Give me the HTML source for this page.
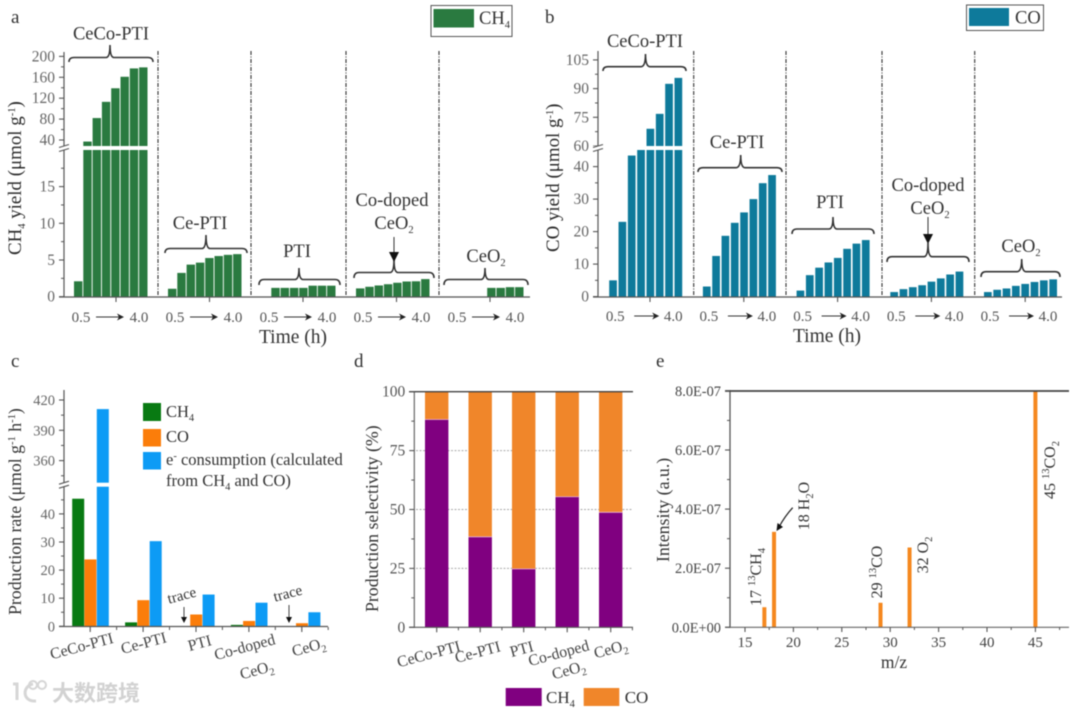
<!DOCTYPE html>
<html lang="en">
<head>
<meta charset="utf-8">
<title>Photocatalytic yield charts</title>
<style>
html,body{margin:0;padding:0;background:#fff;width:1080px;height:713px;overflow:hidden}
svg{display:block;filter:blur(.5px)}
text{font-family:"Liberation Serif","Noto Serif CJK SC",serif;fill:#333}
.lab{font-size:18.5px;text-anchor:middle;fill:#333}
.tit{font-size:18.9px;fill:#2c2c2c}
.sub{font-size:10.5px;baseline-shift:-4px}
.sup{font-size:10.5px;baseline-shift:6px}
.rot{font-size:15.8px;text-anchor:middle;fill:#444}
.ann{font-size:16px;text-anchor:middle;fill:#333}
.leg{font-size:16.5px;fill:#333}
.curve{fill:none;stroke:#333;stroke-width:1.6}
</style>
</head>
<body>
<svg id="figure" xmlns="http://www.w3.org/2000/svg" width="1080" height="713" viewBox="0 0 1080 713">
  <rect width="1080" height="713" fill="#fff"/>
  <g id="marks"></g>

  <!-- Panel a annotations -->
  <g>
    <text x="11" y="23" font-size="19" fill="#222">a</text>
    <rect x="431" y="5.5" width="81" height="31" fill="#fff" stroke="#555"/>
    <rect x="433.5" y="9" width="40.5" height="18.5" fill="#2a7a40"/>
    <text x="479" y="24" font-size="18.5">CH<tspan class="sub">4</tspan></text>
    <text class="tit" transform="translate(21,255) rotate(-90)">CH<tspan class="sub">4</tspan> yield (μmol g<tspan class="sup">-1</tspan>)</text>
    <text class="lab" x="293" y="343" style="font-size:19.5px">Time (h)</text>
    <text class="lab" x="111" y="39.5">CeCo-PTI</text>
    <text class="lab" x="200" y="229">Ce-PTI</text>
    <text class="lab" x="297" y="257">PTI</text>
    <text class="lab" x="392" y="206">Co-doped</text>
    <text class="lab" x="394" y="229">CeO<tspan class="sub">2</tspan></text>
    <text class="lab" x="486" y="262">CeO<tspan class="sub">2</tspan></text>
    <path class="curve" d="M69,62Q69,57.5 74,57.5L106,57.5Q110,57.5 110,45Q110,57.5 114,57.5L148,57.5Q153,57.5 153,62"/>
    <path class="curve" d="M165,253Q165,248.5 170,248.5L202,248.5Q206,248.5 206,235Q206,248.5 210,248.5L242,248.5Q247,248.5 247,253"/>
    <path class="curve" d="M259,285Q259,279.5 264,279.5L295,279.5Q299,279.5 299,268Q299,279.5 303,279.5L335,279.5Q340,279.5 340,285"/>
    <path class="curve" d="M354,278Q354,272.5 359,272.5L390,272.5Q394,272.5 394,260Q394,272.5 398,272.5L429,272.5Q434,272.5 434,278"/>
    <path class="curve" d="M444,285Q444,279.5 449,279.5L481,279.5Q485,279.5 485,268Q485,279.5 489,279.5L523,279.5Q528,279.5 528,285"/>
    <line x1="394" y1="237" x2="394" y2="253" stroke="#333"/>
    <polygon points="389,252 399,252 394,262" fill="#111"/>
  </g>

  <!-- Panel b annotations -->
  <g>
    <text x="545" y="23" font-size="19" fill="#222">b</text>
    <rect x="966.5" y="5" width="77" height="25.5" fill="#fff" stroke="#555"/>
    <rect x="969" y="8" width="40" height="18" fill="#0e7a9b"/>
    <text x="1015" y="23.5" font-size="18.5">CO</text>
    <text class="tit" transform="translate(559,252) rotate(-90)">CO yield (μmol g<tspan class="sup">-1</tspan>)</text>
    <text class="lab" x="827" y="342" style="font-size:19.5px">Time (h)</text>
    <text class="lab" x="645" y="47">CeCo-PTI</text>
    <text class="lab" x="737" y="148">Ce-PTI</text>
    <text class="lab" x="830" y="208">PTI</text>
    <text class="lab" x="928" y="191">Co-doped</text>
    <text class="lab" x="930" y="214">CeO<tspan class="sub">2</tspan></text>
    <text class="lab" x="1021" y="252">CeO<tspan class="sub">2</tspan></text>
    <path class="curve" d="M603,71Q603,66.7 608,66.7L641,66.7Q645.5,66.7 645.5,54Q645.5,66.7 650,66.7L681,66.7Q686,66.7 686,71"/>
    <path class="curve" d="M698,172Q698,167.7 703,167.7L736,167.7Q740.7,167.7 740.7,155Q740.7,167.7 745,167.7L777,167.7Q782,167.7 782,172"/>
    <path class="curve" d="M792,234Q792,229 797,229L829,229Q833,229 833,217Q833,229 837,229L869,229Q874,229 874,234"/>
    <path class="curve" d="M887,262Q887,256.7 892,256.7L924,256.7Q928,256.7 928,243Q928,256.7 932,256.7L964,256.7Q969,256.7 969,262"/>
    <path class="curve" d="M981,277Q981,271.7 986,271.7L1017,271.7Q1021.7,271.7 1021.7,259Q1021.7,271.7 1026,271.7L1055,271.7Q1060,271.7 1060,277"/>
    <line x1="928" y1="217" x2="928" y2="235" stroke="#333"/>
    <polygon points="923,234 933,234 928,244" fill="#111"/>
  </g>

  <!-- Panel c annotations -->
  <g>
    <text x="11" y="367" font-size="19" fill="#222">c</text>
    <text transform="translate(21,615) rotate(-90)" style="font-size:17.8px">Production rate (μmol g<tspan class="sup">-1</tspan> h<tspan class="sup">-1</tspan>)</text>
    <rect x="143" y="403" width="18" height="18" fill="#087a12"/>
    <rect x="143" y="429" width="18" height="17.5" fill="#fb7d0a"/>
    <rect x="143" y="452" width="18" height="17.5" fill="#0d9bf5"/>
    <text class="leg" x="166" y="417">CH<tspan class="sub">4</tspan></text>
    <text class="leg" x="166" y="442">CO</text>
    <text class="leg" x="166" y="465">e<tspan class="sup">-</tspan> consumption (calculated</text>
    <text class="leg" x="166" y="486">from CH<tspan class="sub">4</tspan> and CO)</text>
    <text class="ann" style="font-size:15px" transform="translate(183,600) rotate(-15)">trace</text>
    <text class="ann" style="font-size:15px" transform="translate(289,598) rotate(-15)">trace</text>
    <line x1="184" y1="607" x2="184" y2="618" stroke="#444"/>
    <polygon points="181,617 187,617 184,623" fill="#111"/>
    <line x1="289" y1="605" x2="289" y2="618" stroke="#444"/>
    <polygon points="286,617 292,617 289,623" fill="#111"/>
    <text class="rot" transform="translate(83,651) rotate(-15)">CeCo-PTI</text>
    <text class="rot" transform="translate(145,648) rotate(-15)">Ce-PTI</text>
    <text class="rot" transform="translate(201,648) rotate(-15)">PTI</text>
    <text class="rot" transform="translate(246,652) rotate(-15)">Co-doped</text>
    <text class="rot" transform="translate(258,675) rotate(-15)">CeO<tspan class="sub">2</tspan></text>
    <text class="rot" transform="translate(310,652) rotate(-15)">CeO<tspan class="sub">2</tspan></text>
  </g>

  <!-- Panel d annotations -->
  <g>
    <text x="354" y="367" font-size="19" fill="#222">d</text>
    <text transform="translate(378,612) rotate(-90)" style="font-size:17.8px">Production selectivity (%)</text>
    <text class="rot" transform="translate(430,659) rotate(-15)">CeCo-PTI</text>
    <text class="rot" transform="translate(479,657) rotate(-15)">Ce-PTI</text>
    <text class="rot" transform="translate(523,654) rotate(-15)">PTI</text>
    <text class="rot" transform="translate(560,658) rotate(-15)">Co-doped</text>
    <text class="rot" transform="translate(570,675) rotate(-15)">CeO<tspan class="sub">2</tspan></text>
    <text class="rot" transform="translate(612,654) rotate(-15)">CeO<tspan class="sub">2</tspan></text>
    <rect x="505.7" y="688" width="36" height="18" fill="#800080"/>
    <text x="546" y="703" font-size="17">CH<tspan class="sub">4</tspan></text>
    <rect x="583.7" y="688" width="35.6" height="18" fill="#f0862a"/>
    <text x="624.7" y="703" font-size="17">CO</text>
  </g>

  <!-- Panel e annotations -->
  <g>
    <text x="656" y="367" font-size="19" fill="#222">e</text>
    <text transform="translate(669,562) rotate(-90)" style="font-size:17.8px">Intensity (a.u.)</text>
    <text x="894" y="668" text-anchor="middle" style="font-size:17.5px">m/z</text>
    <text class="ann" transform="translate(761,577) rotate(-90)">17 <tspan class="sup">13</tspan>CH<tspan class="sub">4</tspan></text>
    <text class="ann" transform="translate(809,506) rotate(-90)">18 H<tspan class="sub">2</tspan>O</text>
    <text class="ann" transform="translate(882,572) rotate(-90)">29 <tspan class="sup">13</tspan>CO</text>
    <text class="ann" transform="translate(928,555) rotate(-90)">32 O<tspan class="sub">2</tspan></text>
    <text class="ann" transform="translate(1055,470) rotate(-90)">45 <tspan class="sup">13</tspan>CO<tspan class="sub">2</tspan></text>
    <path d="M792.7,507.7Q785,516 779,527" fill="none" stroke="#222" stroke-width="1.2"/>
    <polygon points="776.5,531 777.5,523 783,527" fill="#111"/>
  </g>

  <!-- Watermark -->
  <g>
    <path d="M13,684L17,684L17,700M33,684C22,686 22,702 36,701" fill="none" stroke="#d6d6d6" stroke-width="3"/>
    <circle cx="33" cy="685" r="4" fill="none" stroke="#d6d6d6" stroke-width="2"/>
    <circle cx="42" cy="685" r="4" fill="none" stroke="#d6d6d6" stroke-width="2"/>
    <text x="52" y="701" style="font-family:'Noto Sans CJK SC',sans-serif;font-size:22px;fill:#d2d2d2;font-weight:700">大数跨境</text>
  </g>
</svg>
<script>
/* ---------- Panel a: CH4 yield per group, 8 time points (null = not shown) ---------- */
const ch4CeCoPti = [2.1, 37, 82, 113, 139, 161, 177, 179];
const ch4CePti = [1.08, 3.24, 4.37, 4.64, 5.27, 5.54, 5.7, 5.8];
const ch4Pti = [null, 1.2, 1.2, 1.2, 1.2, 1.5, 1.5, 1.5];
const ch4CoDoped = [1.13, 1.35, 1.53, 1.7, 1.9, 2.07, 2.1, 2.4];
const ch4CeO2 = [null, null, null, null, 1.2, 1.2, 1.3, 1.3];
const ticksALower = [0, 5, 10, 15];
const ticksAUpper = [40, 80, 120, 160, 200];
const minorALower = [2.5, 7.5, 12.5, 17.5];
const minorAUpper = [60, 100, 140, 180];

/* ---------- Panel b: CO yield per group ---------- */
const coCeCoPti = [5, 23, 43.4, 45.5, 69, 76.8, 92.5, 95.6];
const coCePti = [3.1, 12.5, 18.7, 22.7, 25.9, 30, 34.9, 37.4];
const coPti = [1.85, 6.6, 8.9, 10.5, 11.9, 14.7, 16.3, 17.4];
const coCoDoped = [1.4, 2.3, 2.9, 3.5, 4.6, 5.6, 6.8, 7.7];
const coCeO2 = [1.4, 2.1, 2.5, 3.3, 3.9, 4.5, 5, 5.3];
const ticksBLower = [0, 10, 20, 30, 40];
const ticksBUpper = [60, 75, 90, 105];
const minorBLower = [5, 15, 25, 35];
const minorBUpper = [67.5, 82.5, 97.5];

const timeStart = '0.5';
const timeEnd = '4.0';

/* ---------- Panel c: production rate ---------- */
const rateCh4 = [45.4, 1.4, 0, 0.5, 0];
const rateCo = [23.8, 9.3, 4.2, 1.9, 1.1];
const rateElectron = [411, 30.3, 11.3, 8.4, 5];
const ticksCLower = [0, 10, 20, 30, 40];
const ticksCUpper = [360, 390, 420];
const minorCLower = [5, 15, 25, 35, 45];
const minorCUpper = [345, 375, 405];

/* ---------- Panel d: selectivity ---------- */
const selectivityCh4 = [88.2, 38.4, 24.8, 55.4, 48.8];
const ticksD = [0, 25, 50, 75, 100];
const gridD = [25, 50, 75];
const minorD = [12.5, 37.5, 62.5, 87.5];

/* ---------- Panel e: mass spectrum (intensity in 1e-7) ---------- */
const massValues = [17, 18, 29, 32, 45];
const massIntensity = [0.68, 3.23, 0.83, 2.7, 8];
const ticksEX = [15, 20, 25, 30, 35, 40, 45];
const minorEX = [17.5, 22.5, 27.5, 32.5, 37.5, 42.5, 47.5];
const ticksEY = [0, 2, 4, 6, 8];
const minorEY = [1, 3, 5, 7];
const tickLabelsEY = ['0.0E+00', '2.0E-07', '4.0E-07', '6.0E-07', '8.0E-07'];

const NS = 'http://www.w3.org/2000/svg';
const marks = document.getElementById('marks');

function make(tag, attrs, text) {
  const n = document.createElementNS(NS, tag);
  for (const k in attrs) n.setAttribute(k, attrs[k]);
  if (text !== undefined) n.textContent = text;
  marks.appendChild(n);
  return n;
}
function rect(x, top, w, bottom, fill, name) {
  const r = make('rect', {x: x, y: top, width: w, height: Math.max(0, bottom - top), fill: fill});
  
  
  return r;
}
function line(x1, y1, x2, y2, color, width, name) {
  const l = make('line', {x1: x1, y1: y1, x2: x2, y2: y2, stroke: color, 'stroke-width': width});
  
  
  return l;
}
function label(x, y, str, size, anchor, color, name) {
  const t = make('text', {x: x, y: y, 'font-size': size, 'text-anchor': anchor, style: 'fill:' + color}, str);
  
  
  return t;
}
function brokenBar(x, w, v, s, color, name) {
  if (v === null) return;
  if (v <= s.lowMax) { rect(x, s.low(v), w, s.base, color, name); return; }
  rect(x, s.lowTop, w, s.base, color, name);
  if (v > s.upMin) rect(x, s.up(v), w, s.upBottom, color, name + '-upper');
}
function yTicks(vals, scale, axisX, size, color, prefix, fmt) {
  vals.forEach(function (v, i) {
    line(axisX - 5, scale(v), axisX, scale(v), '#555', 1.1, prefix + '-tick');
    label(axisX - 9, scale(v) + 5, fmt ? fmt[i] : String(v), size, 'end', color, prefix + '-tick-label');
  });
}
function yMinor(vals, scale, axisX, prefix) {
  vals.forEach(function (v) {
    line(axisX - 3, scale(v), axisX, scale(v), '#555', 1, prefix + '-minor-tick');
  });
}
function breakMark(axisX, y1, y2, prefix) {
  rect(axisX - 6, y1, 12, y2, '#fff', prefix + '-break-gap');
  line(axisX - 5, y1 + 1.5, axisX + 5, y1 - 1.5, '#555', 1.1, prefix + '-break-mark');
  line(axisX - 5, y2 + 1.5, axisX + 5, y2 - 1.5, '#555', 1.1, prefix + '-break-mark');
}
function timeAxis(left, tick, offStart, offEnd, arrowA, arrowB, baseY, prefix) {
  line(tick, 297, tick, 302, '#555', 1.1, prefix + '-x-tick');
  label(left + offStart, baseY, timeStart, 15, 'middle', '#555', prefix + '-time-start');
  label(left + offEnd, baseY, timeEnd, 15, 'middle', '#555', prefix + '-time-end');
  line(left + arrowA, baseY - 5, left + arrowB, baseY - 5, '#333', 1, prefix + '-time-arrow');
  const head = make('polygon', {points: (left + arrowB + 5) + ',' + (baseY - 5) + ' ' + (left + arrowB - 2) + ',' + (baseY - 8.5) + ' ' + (left + arrowB) + ',' + (baseY - 5) + ' ' + (left + arrowB - 2) + ',' + (baseY - 1.5), fill: '#222'});
  
  
}
function divider(x, top, bottom, name) {
  const d = make('line', {x1: x, y1: top, x2: x, y2: bottom, stroke: '#333', 'stroke-width': 1.1, 'stroke-dasharray': '4 1.5 1 1.5'});
  
  
}

/* ===== Panel a ===== */
const scaleA = {base: 296.7, lowTop: 150, upBottom: 146, lowMax: 19.9, upMin: 28.5,
  low: function (v) { return 296.7 - v * 7.34; },
  up: function (v) { return 140 - (v - 40) * 0.5225; }};
const groupLeftA = function (g) { return 74 + 94 * g; };
const groupTickA = function (g) { return 116 + 93.5 * g; };
const barX = function (left, i, pitch) { return left + i * pitch; };
const seriesA = [ch4CeCoPti, ch4CePti, ch4Pti, ch4CoDoped, ch4CeO2];
seriesA.forEach(function (vals, g) {
  vals.forEach(function (v, i) {
    brokenBar(barX(groupLeftA(g), i, 9.3), 8.4, v, scaleA, '#2a7a40', 'ch4-bar');
  });
  timeAxis(groupLeftA(g), groupTickA(g), 7, 65, 22, 45, 322, 'panel-a');
});
[158, 251, 346, 439].forEach(function (x) { divider(x, 51, 297, 'panel-a-divider'); });
line(64, 52, 64, 297, '#555', 1.2, 'panel-a-y-axis');
line(59, 297, 530, 297, '#555', 1.2, 'panel-a-x-axis');
yTicks(ticksALower, scaleA.low, 64, 15.5, '#666', 'panel-a-y');
yTicks(ticksAUpper, scaleA.up, 64, 15.5, '#666', 'panel-a-y');
yMinor(minorALower, scaleA.low, 64, 'panel-a-y');
yMinor(minorAUpper, scaleA.up, 64, 'panel-a-y');
breakMark(64, 146, 150, 'panel-a');

/* ===== Panel b ===== */
const scaleB = {base: 296.6, lowTop: 150, upBottom: 146, lowMax: 45.1, upMin: 60,
  low: function (v) { return 296.6 - v * 3.25; },
  up: function (v) { return 146 - (v - 60) * 1.913; }};
const groupLeftB = function (g) { return 609.2 + 93.7 * g; };
const groupTickB = function (g) { return 650 + 93.8 * g; };
const seriesB = [coCeCoPti, coCePti, coPti, coCoDoped, coCeO2];
seriesB.forEach(function (vals, g) {
  vals.forEach(function (v, i) {
    brokenBar(barX(groupLeftB(g), i, 9.33), 7.7, v, scaleB, '#0e7a9b', 'co-bar');
  });
  timeAxis(groupLeftB(g), groupTickB(g), 6, 64, 25, 45, 321, 'panel-b');
});
[693.7, 786, 882, 974.7].forEach(function (x) { divider(x, 51, 297, 'panel-b-divider'); });
line(598, 51, 598, 297, '#555', 1.2, 'panel-b-y-axis');
line(593, 297, 1062, 297, '#555', 1.2, 'panel-b-x-axis');
yTicks(ticksBLower, scaleB.low, 598, 15.5, '#666', 'panel-b-y');
yTicks(ticksBUpper, scaleB.up, 598, 15.5, '#666', 'panel-b-y');
yMinor(minorBLower, scaleB.low, 598, 'panel-b-y');
yMinor(minorBUpper, scaleB.up, 598, 'panel-b-y');
breakMark(598, 146, 150, 'panel-b');

/* ===== Panel c ===== */
const scaleC = {base: 626.3, lowTop: 486.7, upBottom: 482.7, lowMax: 49.7, upMin: 338,
  low: function (v) { return 626.3 - v * 2.81; },
  up: function (v) { return 400 + (420 - v) * 1.01; }};
const groupLeftC = function (g) { return 72.2 + 52.9 * g; };
rateCh4.forEach(function (v, g) {
  if (v > 0) brokenBar(groupLeftC(g), 12, v, scaleC, '#087a12', 'rate-ch4-bar');
});
rateCo.forEach(function (v, g) {
  brokenBar(groupLeftC(g) + 12.2, 12, v, scaleC, '#fb7d0a', 'rate-co-bar');
});
rateElectron.forEach(function (v, g) {
  brokenBar(groupLeftC(g) + 24.6, 12, v, scaleC, '#0d9bf5', 'rate-electron-bar');
});
line(64, 390, 64, 627, '#555', 1.2, 'panel-c-y-axis');
line(59, 626.5, 328, 626.5, '#555', 1.2, 'panel-c-x-axis');
yTicks(ticksCLower, scaleC.low, 64, 14.5, '#666', 'panel-c-y');
yTicks(ticksCUpper, scaleC.up, 64, 14.5, '#666', 'panel-c-y');
yMinor(minorCLower, scaleC.low, 64, 'panel-c-y');
yMinor(minorCUpper, scaleC.up, 64, 'panel-c-y');
breakMark(64, 482.7, 486.7, 'panel-c');
rateCo.forEach(function (v, g) {
  line(groupLeftC(g) + 18, 627, groupLeftC(g) + 18, 632, '#555', 1.1, 'panel-c-x-tick');
  line(groupLeftC(g) + 44.4, 627, groupLeftC(g) + 44.4, 630, '#555', 1, 'panel-c-x-minor-tick');
});

/* ===== Panel d ===== */
const yD = function (v) { return 627.3 - v * 2.356; };
const centerD = function (g) { return 436.7 + 43.5 * g; };
gridD.forEach(function (v) {
  const g = make('line', {x1: 416, y1: yD(v), x2: 633, y2: yD(v), stroke: '#aaa', 'stroke-width': 1, 'stroke-dasharray': '2 1.5'});
  
  
});
selectivityCh4.forEach(function (v, g) {
  rect(centerD(g) - 11.7, yD(100), 23.4, yD(v), '#f0862a', 'selectivity-co-bar');
  rect(centerD(g) - 11.7, yD(v), 23.4, yD(0), '#800080', 'selectivity-ch4-bar');
  line(centerD(g) - 11.7, yD(v), centerD(g) + 11.7, yD(v), '#e8b8d8', 0.8, 'selectivity-bar-edge');
  line(centerD(g), yD(0), centerD(g), yD(0) + 5, '#555', 1.1, 'panel-d-x-tick');
  line(centerD(g) + 21.7, yD(0), centerD(g) + 21.7, yD(0) + 3, '#555', 1, 'panel-d-x-minor-tick');
});
line(414.3, 391, 414.3, 628, '#666', 1.2, 'panel-d-y-axis');
line(409, 627.3, 633, 627.3, '#555', 1.2, 'panel-d-x-axis');
line(409, 391.7, 633, 391.7, '#444', 1.3, 'panel-d-top-axis');
yTicks(ticksD, yD, 414.3, 15.5, '#555', 'panel-d-y');
yMinor(minorD, yD, 414.3, 'panel-d-y');

/* ===== Panel e ===== */
const xE = function (v) { return 745 + (v - 15) * 9.68; };
const yE = function (v) { return 627.3 - v * 29.55; };
massValues.forEach(function (m, i) {
  rect(xE(m) - 2, yE(massIntensity[i]), 4, yE(0), '#f5881f', 'mass-peak');
});
line(730, 390, 730, 628, '#555', 1.3, 'panel-e-y-axis');
line(725, 627.3, 1069, 627.3, '#666', 1.2, 'panel-e-x-axis');
line(725, 391, 1069, 391, '#444', 1.8, 'panel-e-top-axis');
yTicks(ticksEY, yE, 730, 14.4, '#444', 'panel-e-y', tickLabelsEY);
yMinor(minorEY, yE, 730, 'panel-e-y');
ticksEX.forEach(function (v) {
  line(xE(v), 627.3, xE(v), 632, '#555', 1.1, 'panel-e-x-tick');
  label(xE(v), 647, String(v), 15, 'middle', '#444', 'panel-e-x-tick-label');
});
minorEX.forEach(function (v) {
  line(xE(v), 627.3, xE(v), 630, '#555', 1, 'panel-e-x-minor-tick');
});
</script>
</body>
</html>
